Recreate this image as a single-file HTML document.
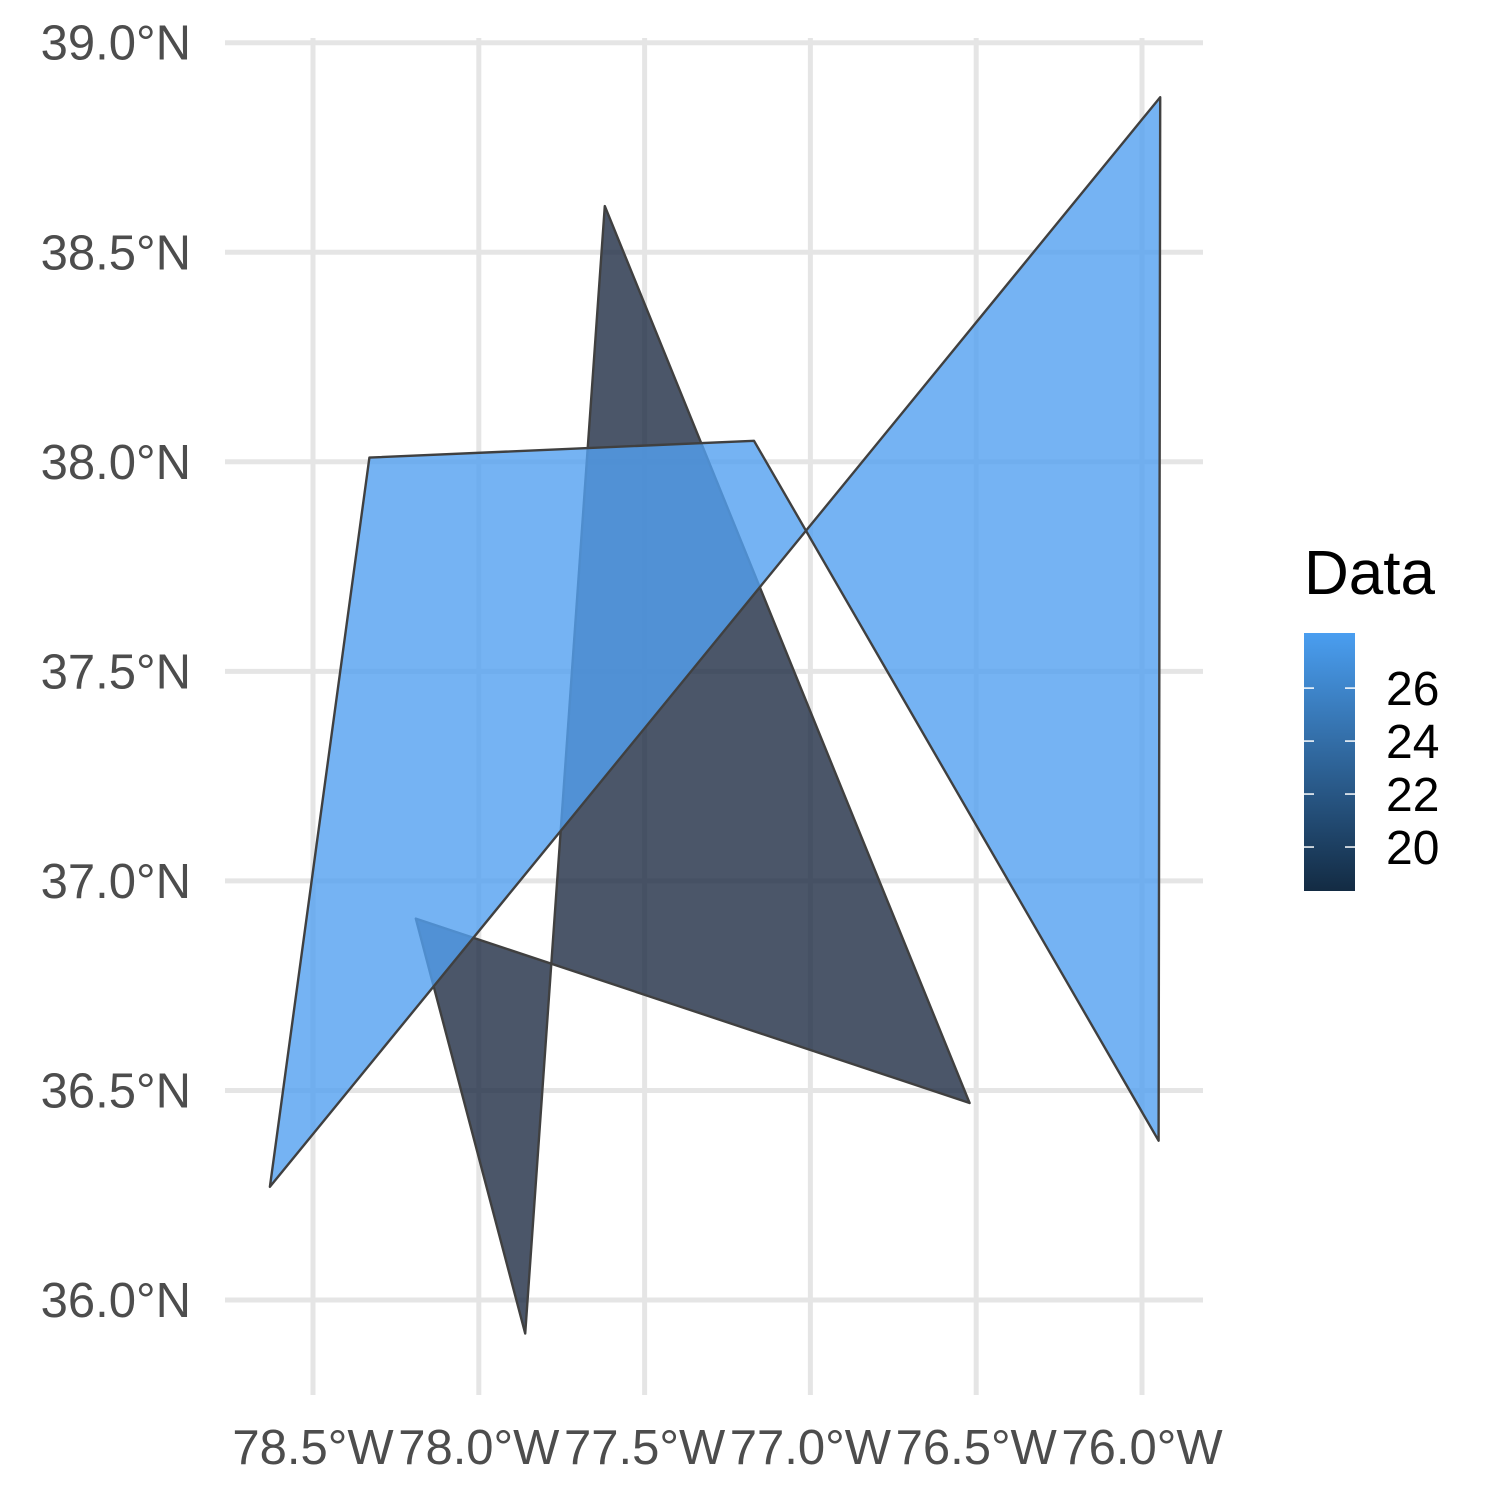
<!DOCTYPE html>
<html><head><meta charset="utf-8"><style>
html,body{margin:0;padding:0;background:#fff}
svg{display:block;font-family:"Liberation Sans",Arial,sans-serif}
</style></head><body>
<svg id="chart" width="1512" height="1512" viewBox="0 0 1512 1512">
<g id="grid"></g>
<g id="polys"></g>
<g id="axes"></g>
<g id="legend"></g>
</svg>
<script>
const xTicks = [-78.5, -78.0, -77.5, -77.0, -76.5, -76.0];
const xTickLabels = ["78.5°W","78.0°W","77.5°W","77.0°W","76.5°W","76.0°W"];
const yTicks = [36.0, 36.5, 37.0, 37.5, 38.0, 38.5, 39.0];
const yTickLabels = ["36.0°N","36.5°N","37.0°N","37.5°N","38.0°N","38.5°N","39.0°N"];
const darkLon = [-77.62, -76.52, -78.19, -77.86];
const darkLat = [38.61, 36.47, 36.91, 35.92];
const blueLon = [-78.33, -77.17, -75.95, -75.945, -78.63];
const blueLat = [38.01, 38.05, 36.38, 38.87, 36.27];
const polyValues = [18.4, 28.0];
const legendTicks = [20, 22, 24, 26];
const legendMin = 18.34, legendMax = 28.08;

const NS='http://www.w3.org/2000/svg';
const sx = lon => 313 + (lon + 78.5) * 331.6;
const sy = lat => 1300 - (lat - 36.0) * 419.1;
function mk(tag, attrs, parent){const e=document.createElementNS(NS,tag);for(const k in attrs)e.setAttribute(k,attrs[k]);parent.appendChild(e);return e;}
const grid=document.getElementById('grid'), polys=document.getElementById('polys'), axes=document.getElementById('axes'), legend=document.getElementById('legend');

xTicks.forEach((v,i)=>{
  const l=mk('line',{x1:sx(v),x2:sx(v),y1:38,y2:1395,stroke:'#e5e5e5','stroke-width':5},grid);
  
  
  const t=mk('text',{x:sx(v),y:1464,'text-anchor':'middle','font-size':49,fill:'#4d4d4d'},axes);
  t.textContent=xTickLabels[i];
  
  
});
yTicks.forEach((v,i)=>{
  const l=mk('line',{x1:225,x2:1203,y1:sy(v),y2:sy(v),stroke:'#e5e5e5','stroke-width':5},grid);
  
  
  const t=mk('text',{x:191,y:sy(v)+17,'text-anchor':'end','font-size':49,fill:'#4d4d4d'},axes);
  t.textContent=yTickLabels[i];
  
  
});

function colorFor(v){
  const f=Math.max(0,Math.min(1,(v-legendMin)/(legendMax-legendMin)));
  const a=[30,43,67], b=[82,161,241];
  return 'rgb('+a.map((c,i)=>Math.round(c+(b[i]-c)*f)).join(',')+')';
}
function poly(lons,lats,val,name){
  const pts=lons.map((x,i)=>sx(x).toFixed(1)+','+sy(lats[i]).toFixed(1)).join(' ');
  const p=mk('polygon',{points:pts,fill:colorFor(val),'fill-opacity':0.8,stroke:'#404040','stroke-width':2.4,'stroke-linejoin':'round'},polys);
  
  
}
poly(darkLon,darkLat,polyValues[0],'dark-polygon');
poly(blueLon,blueLat,polyValues[1],'blue-polygon');

const title=mk('text',{x:1304,y:594,'font-size':62,fill:'#000'},legend);
title.textContent='Data';


const defs=mk('defs',{},legend);
const grad=mk('linearGradient',{id:'lg',x1:0,y1:1,x2:0,y2:0},defs);
mk('stop',{offset:0,'stop-color':'#132b43'},grad);
mk('stop',{offset:1,'stop-color':'#4a9ef0'},grad);
const bar=mk('rect',{x:1304,y:633,width:51,height:258,fill:'url(#lg)'},legend);


const ly=v=>891-(v-legendMin)/(legendMax-legendMin)*258;
legendTicks.forEach(v=>{
  mk('line',{x1:1304,x2:1314,y1:ly(v),y2:ly(v),stroke:'#fff','stroke-width':1.5},legend);
  mk('line',{x1:1345,x2:1355,y1:ly(v),y2:ly(v),stroke:'#fff','stroke-width':1.5},legend);
  const t=mk('text',{x:1386,y:ly(v)+17,'font-size':48,fill:'#000'},legend);
  t.textContent=String(v);
  
  
});
</script>
</body></html>
